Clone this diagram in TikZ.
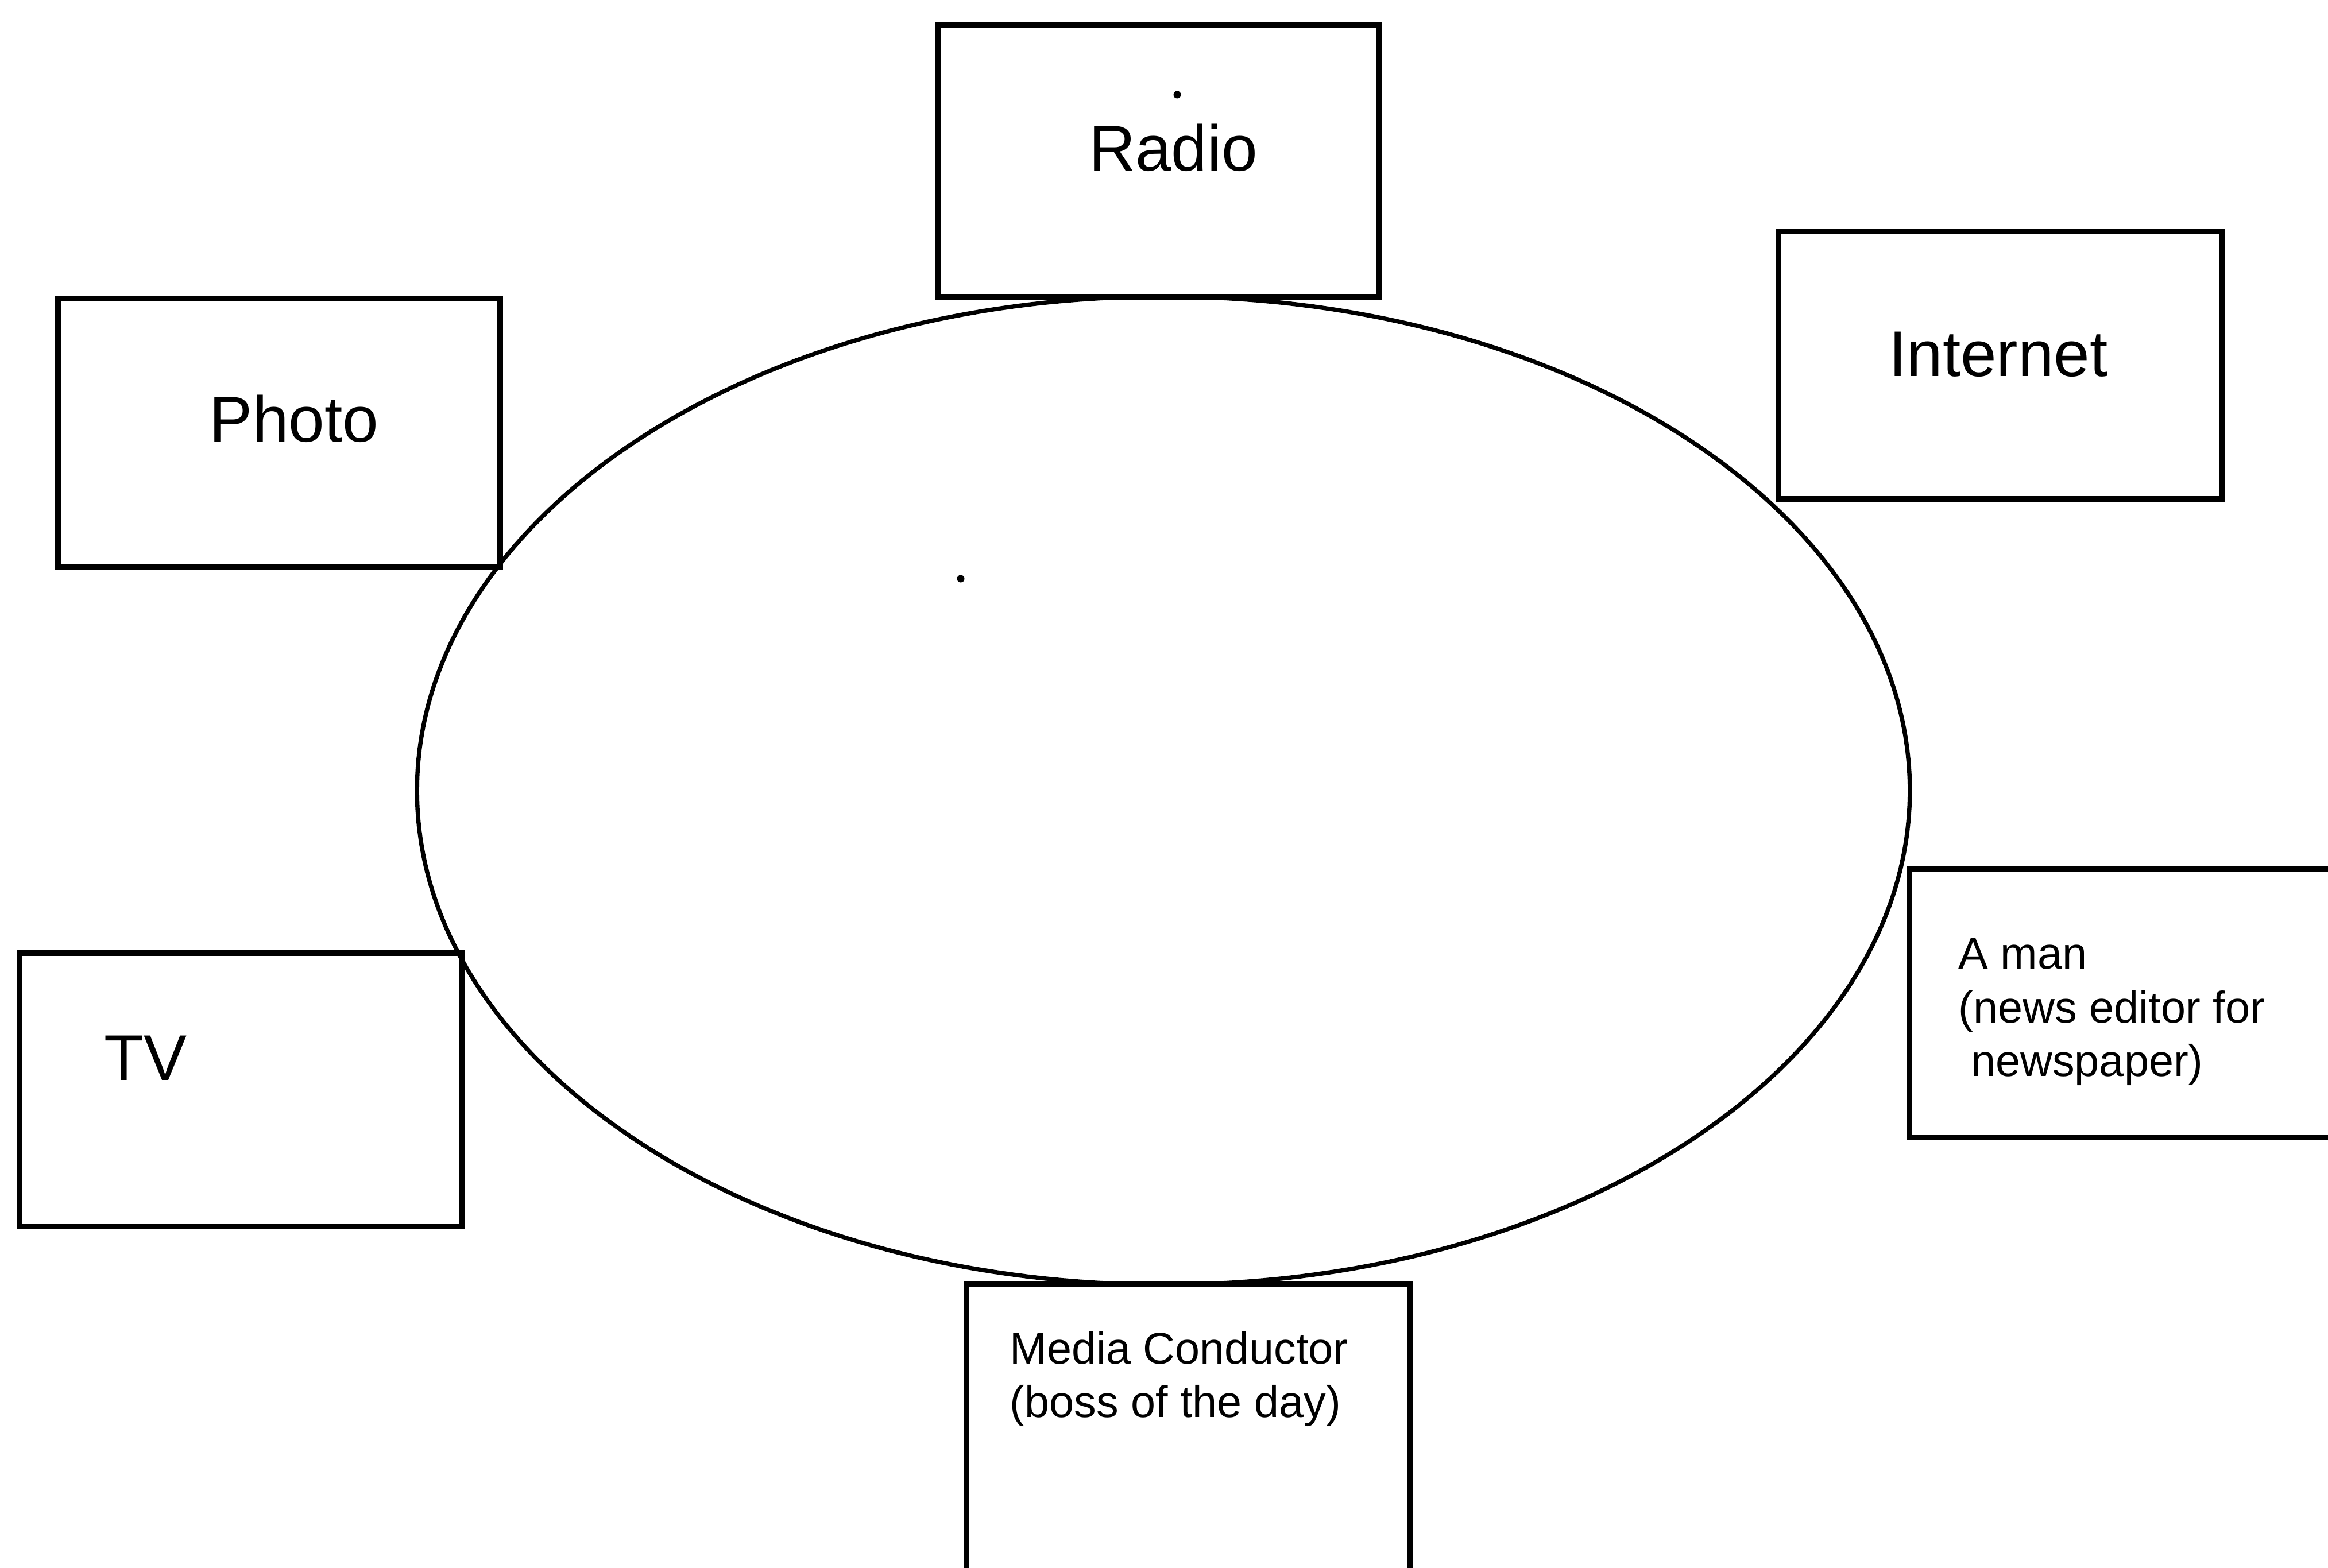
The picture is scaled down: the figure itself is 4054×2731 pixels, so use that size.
\documentclass[tikz,border=0pt]{standalone}
\usepackage{fontspec}
\setmainfont{Liberation Sans}
\usetikzlibrary{shapes.geometric}
\begin{document}
\begin{tikzpicture}[x=0.01cm,y=-0.01cm,
  box/.style={draw=black,line width=2.9pt,rectangle,inner sep=0pt},
  oval/.style={draw=black,line width=2.1pt,ellipse,inner sep=0pt},
  bigtxt/.style={inner sep=0pt,font=\fontsize{32}{38}\selectfont},
  smalltxt/.style={inner sep=0pt,align=left,font=\fontsize{22}{26.5}\selectfont},
  speck/.style={circle,fill=black,inner sep=0pt,minimum size=0.13cm}]
\useasboundingbox (0,0) rectangle (4054,2731);
\clip (0,0) rectangle (4054,2731);
\fill[white] (0,0) rectangle (4054,2731);
% ellipse
\node[oval,minimum width=25.98cm,minimum height=17.2cm] (table) at (2026,1377) {};
% boxes
\node[box,minimum width=7.68cm,minimum height=4.73cm] (radiobox) at (2018,280.5) {};
\node[box,minimum width=7.73cm,minimum height=4.66cm] (internetbox) at (3483.5,636) {};
\node[box,minimum width=7.70cm,minimum height=4.68cm] (photobox) at (486,754) {};
\node[box,minimum width=7.70cm,minimum height=4.76cm] (tvbox) at (419,1898) {};
\node[box,minimum width=7.95cm,minimum height=4.68cm] (manbox) at (3722.5,1747) {};
\node[box,minimum width=7.73cm,minimum height=5.64cm] (mediabox) at (2069.5,2518) {};
% labels
\node[bigtxt,anchor=base] (radio) at (2043,298) {Radio};
\node[bigtxt,anchor=base] (internet) at (3480,656) {Internet};
\node[bigtxt,anchor=base] (photo) at (512,770) {Photo};
\node[bigtxt,anchor=base west] (tv) at (181,1881) {TV};
\node[smalltxt,anchor=north west] (man) at (3410,1634) {A man\\(news editor for\\\hspace*{0.28em}newspaper)};
\node[smalltxt,anchor=north west] (media) at (1758,2319) {Media Conductor\\(boss of the day)};
% specks
\node[speck] (speckA) at (2050,165) {};
\node[speck] (speckB) at (1673,1008) {};
\end{tikzpicture}
\end{document}
